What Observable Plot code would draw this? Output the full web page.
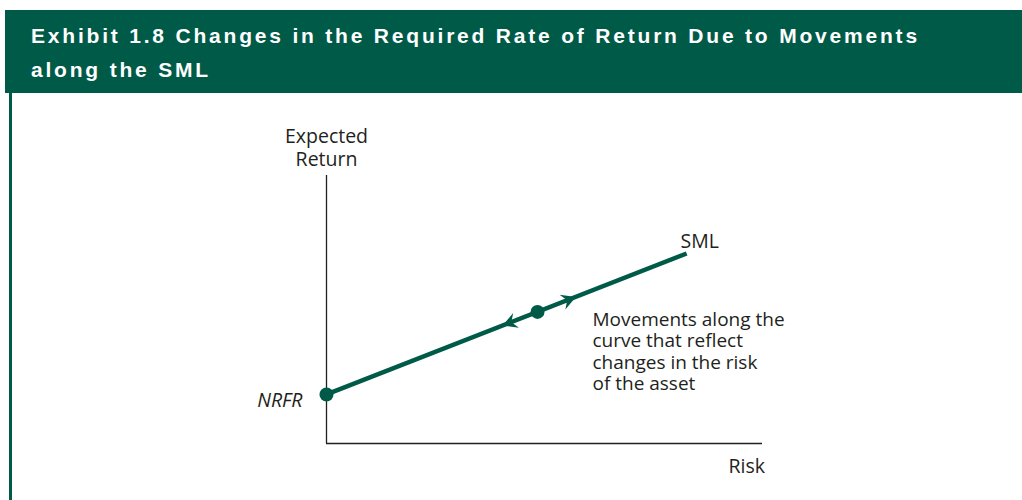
<!DOCTYPE html>
<html>
<head>
<meta charset="utf-8">
<script src="https://cdn.jsdelivr.net/npm/d3@7"></script>
<script src="https://cdn.jsdelivr.net/npm/@observablehq/plot@0.6"></script>
<style>
  html, body { margin: 0; padding: 0; background: #fff; }
  #wrap { position: relative; width: 1022px; height: 500px; overflow: hidden; }
  #header { position: absolute; left: 5px; top: 10px; width: 1017px; height: 83px; background: #005a48; color: #fff;
    font-family: "Liberation Sans", Arial, sans-serif; font-weight: bold; font-size: 21px; letter-spacing: 2.8px; line-height: 34px;
    box-sizing: border-box; padding: 9px 0 0 26px; white-space: nowrap; }
  #leftbar { position: absolute; left: 9px; top: 93px; width: 3px; height: 407px; background: #005a48; }
  #chart { position: absolute; left: 0; top: 0; }
</style>
</head>
<body>
<div id="wrap">
  <div id="chart"></div>
  <div id="header">Exhibit 1.8 Changes in the Required Rate of Return Due to Movements<br>along the SML</div>
  <div id="leftbar"></div>
</div>
<script>
// Data (abstract units: risk 0-10, return 0-10)
const smlX = [0, 8.26];
const smlY = [1.83, 7.09];
const nrfr = {x: 0, y: 1.83};
const midPoint = {x: 4.84, y: 4.91};
const arrowTips = [
  {x: 5.72, y: 5.47, rotate: 68.6},
  {x: 4.04, y: 4.40, rotate: 248.6}
];
const axisLabels = {y: ["Expected", "Return"], x: "Risk"};
const noteLines = ["Movements along the", "curve that reflect", "changes in the risk", "of the asset"];

const green = "#005a48";
const ink = "#231f20";
const font = "'Open Sans', 'Noto Sans', sans-serif";

const sml = smlX.map((x, i) => ({x, y: smlY[i]}));

// barbed arrowhead with tip at the anchor point, pointing up before rotation
const barb = {
  draw(context, size) {
    const s = Math.sqrt(size / Math.PI); // equals r
    const L = s * 2, w = s * 1.1, n = s * 1.3;
    context.moveTo(0, 0);
    context.lineTo(w, L);
    context.lineTo(0, n);
    context.lineTo(-w, L);
    context.closePath();
  }
};

const plot = Plot.plot({
  width: 1022,
  height: 500,
  marginLeft: 326,
  marginRight: 260,
  marginTop: 175,
  marginBottom: 57,
  x: {domain: [0, 10], axis: null},
  y: {domain: [0, 10], axis: null},
  style: {fontFamily: font, background: "white", overflow: "visible"},
  marks: [
    Plot.ruleX([0], {y1: 0, y2: 10, stroke: ink, strokeWidth: 1.3}),
    Plot.ruleY([0], {x1: 0, x2: 10, stroke: ink, strokeWidth: 1.3}),
    Plot.line(sml, {x: "x", y: "y", stroke: green, strokeWidth: 4.5, strokeLinecap: "butt"}),
    Plot.dot([nrfr, midPoint], {x: "x", y: "y", r: 7, fill: green}),
    Plot.dot(arrowTips, {x: "x", y: "y", symbol: barb, r: 7.2, fill: green, rotate: "rotate"}),
    Plot.text([axisLabels.y.join("\n")], {x: 0, y: 10, dy: -10, lineHeight: 1.13, fontSize: 19.5, fill: ink, textAnchor: "middle", lineAnchor: "bottom"}),
    Plot.text([axisLabels.x], {x: 9.64, y: 0, dy: 23, fontSize: 19.5, fill: ink, textAnchor: "middle"}),
    Plot.text(["NRFR"], {x: nrfr.x, y: nrfr.y, dx: -24, dy: 6, fontSize: 19.5, fill: ink, textAnchor: "end", fontStyle: "italic"}),
    Plot.text(["SML"], {x: smlX[1], y: smlY[1], dx: 13, dy: -12, fontSize: 19.5, fill: ink, textAnchor: "middle"}),
    Plot.text([noteLines.join("\n")], {x: 6.1, y: 4.93, fontSize: 19, fill: ink, textAnchor: "start", lineAnchor: "top", lineHeight: 1.11})
  ]
});
document.getElementById("chart").appendChild(plot);
</script>
</body>
</html>
